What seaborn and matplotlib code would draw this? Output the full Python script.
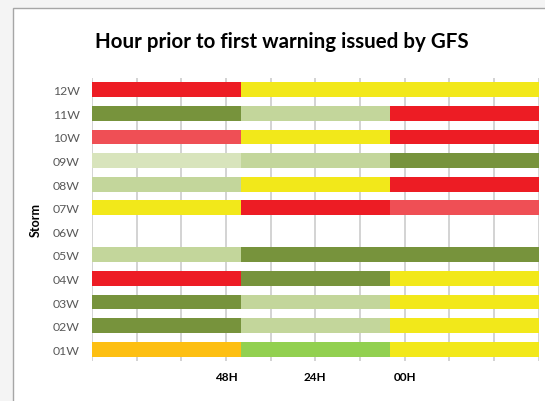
import matplotlib
matplotlib.use('Agg')
import matplotlib.pyplot as plt
from matplotlib.patches import Rectangle
import seaborn as sns

# Storms, top to bottom
storms = ['12W', '11W', '10W', '09W', '08W', '07W', '06W', '05W', '04W', '03W', '02W', '01W']

# colour class of each of the three forecast periods
period1 = ['red', 'dkgreen', 'salmon', 'palegreen', 'ltgreen', 'yellow', None, 'ltgreen', 'red', 'dkgreen', 'dkgreen', 'orange']
period2 = ['yellow', 'ltgreen', 'yellow', 'ltgreen', 'yellow', 'red', None, 'dkgreen', 'dkgreen', 'ltgreen', 'ltgreen', 'lime']
period3 = ['yellow', 'red', 'red', 'dkgreen', 'red', 'salmon', None, 'dkgreen', 'yellow', 'yellow', 'yellow', 'yellow']

# hours covered by each period (chart starts at 84H before first warning)
period_hours = [40, 40, 40]
tick_hours = [48, 24, 0]
tick_labels = ['48H', '24H', '00H']
start_hour = 84

colors = {
    'red': '#ED1C24', 'yellow': '#F2E81A', 'dkgreen': '#77933C',
    'ltgreen': '#C3D69B', 'palegreen': '#D8E4BC', 'salmon': '#EF4F55',
    'orange': '#FDBF12', 'lime': '#92D050',
}

fig = plt.figure(figsize=(5.45, 4.02), dpi=100)
fig.patch.set_facecolor('#f4f4f4')
fig.patches.append(Rectangle((13 / 545, -0.1), 1.1, 1 - 9 / 402 + 0.1, transform=fig.transFigure,
                             facecolor='white', edgecolor='#a6a6a6', linewidth=1.0, zorder=-5))

ax = fig.add_axes([92 / 545, 1 - 362 / 402, 446.7 / 545, 283 / 402])
ax.set_facecolor('none')

periods = [period1, period2, period3]
ends = [sum(period_hours[:i + 1]) for i in range(3)]

# draw from the last period backwards so each earlier period overlays the later one
for k in [2, 1, 0]:
    cls = periods[k]
    vals = [ends[k] if c is not None else 0 for c in cls]
    pal = {s: (colors[c] if c is not None else 'white') for s, c in zip(storms, cls)}
    sns.barplot(x=vals, y=storms, hue=storms, palette=pal, orient='h', width=0.63,
                legend=False, ax=ax, saturation=1, linewidth=0)

ax.set_xlim(0, sum(period_hours))
ax.set_ylim(len(storms) - 0.5, -0.5)
ax.set_xticks(range(0, sum(period_hours) + 1, 12), minor=True)
ax.set_xticks([start_hour - h for h in tick_hours])
ax.set_xticklabels(tick_labels, fontweight='bold', fontsize=8.5, family='Lato')
ax.grid(axis='x', which='both', color='#d0d0d0', linewidth=1.3)
ax.set_axisbelow(True)
ax.tick_params(axis='both', which='both', length=0)
ax.tick_params(axis='x', pad=7)
ax.tick_params(axis='y', pad=9, labelcolor='#595959', labelsize=8.8)
for lab in ax.get_yticklabels():
    lab.set_family('Lato')
for sp in ax.spines.values():
    sp.set_visible(False)

ax.set_xlabel('')
ax.set_ylabel('Storm', fontweight='bold', fontsize=9, family='Lato')
ax.yaxis.set_label_coords((42 - 92) / 446.7, 0.5)

fig.text(282 / 545, 1 - 42 / 402, 'Hour prior to first warning issued by GFS',
         ha='center', va='center', fontsize=14.8, fontweight='bold', family='Lato')

fig.savefig('out.png', dpi=100, facecolor=fig.get_facecolor())
